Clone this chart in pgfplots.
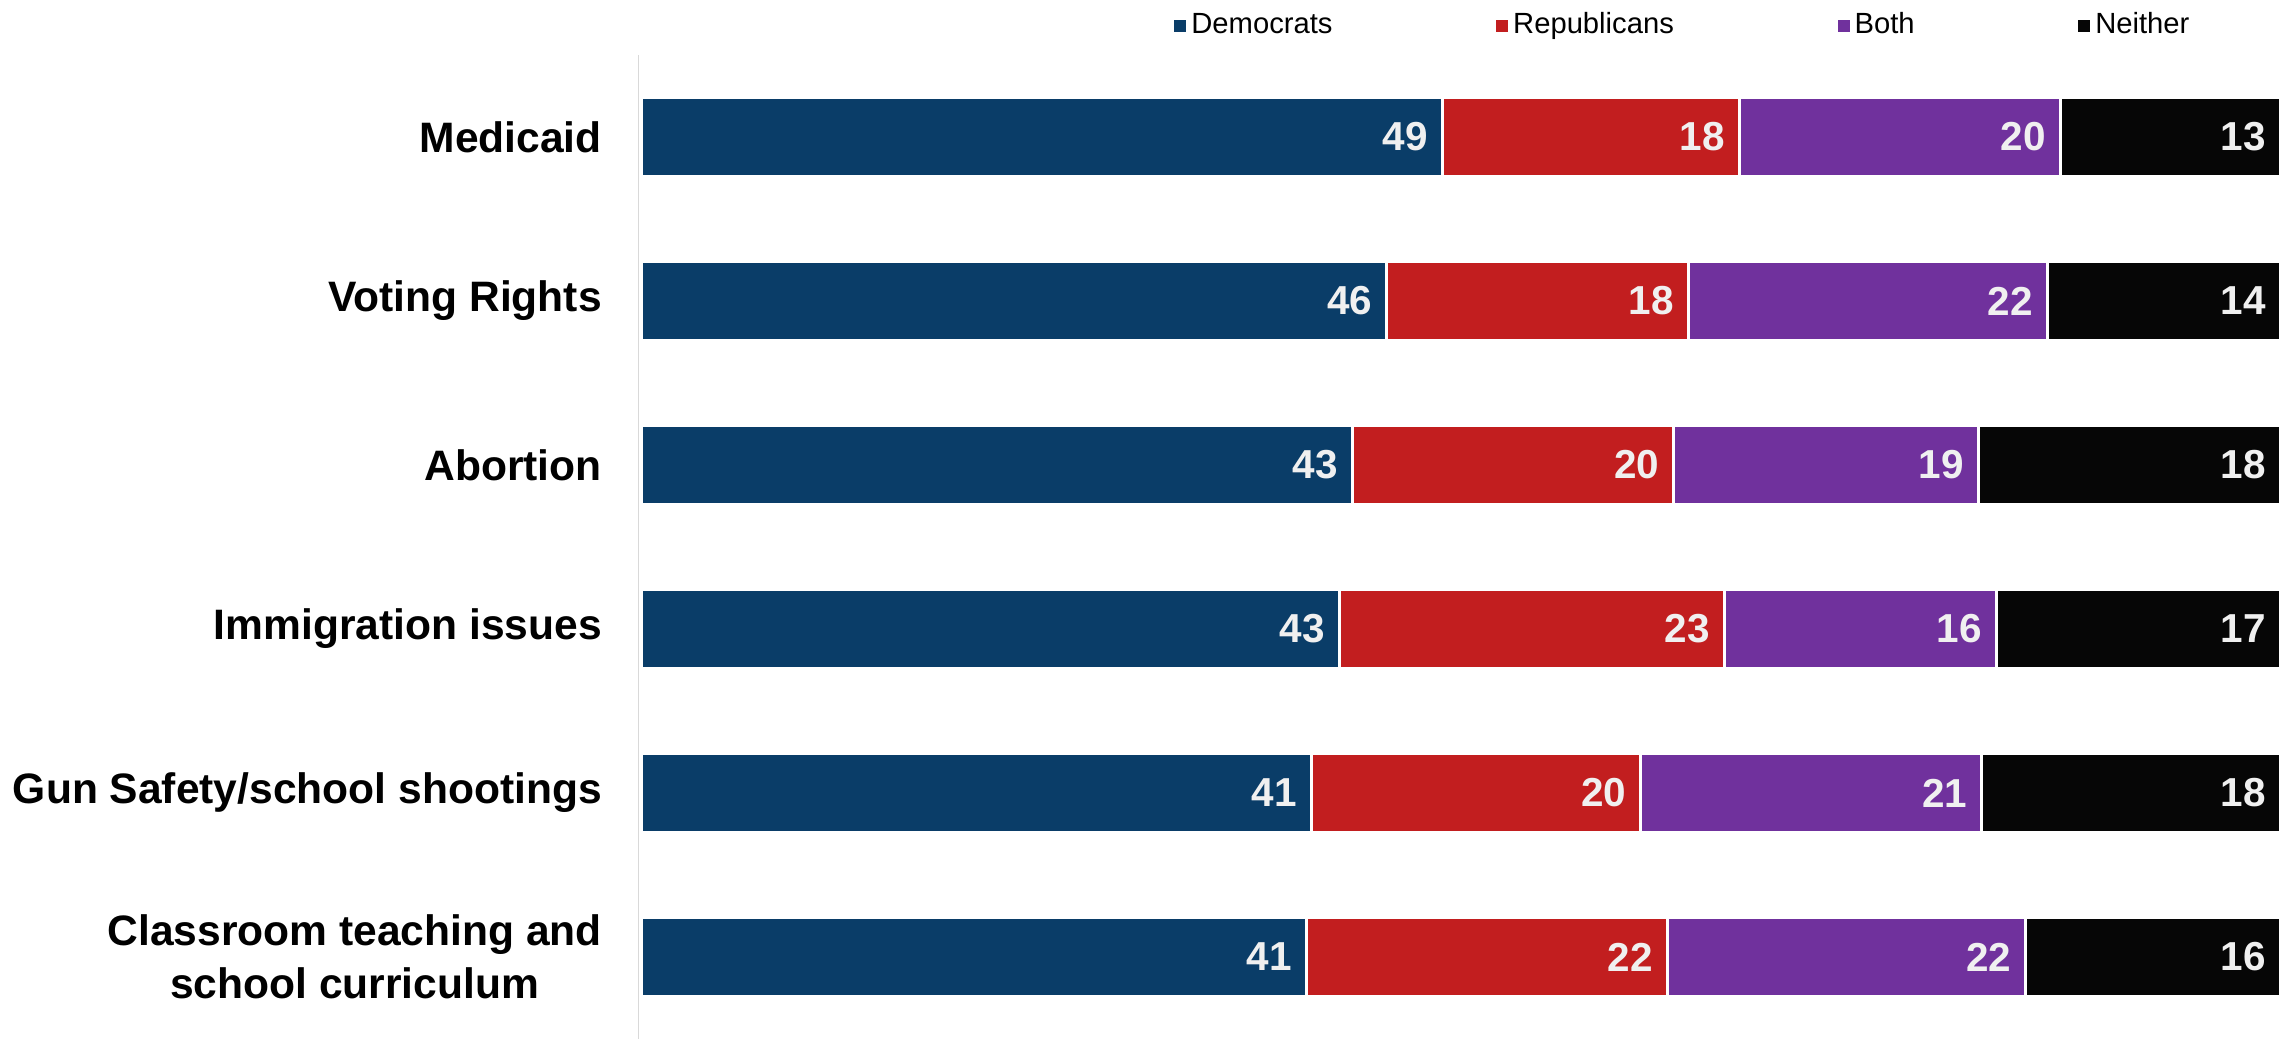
\documentclass[border=0pt]{standalone}
\usepackage{fontspec}
\setmainfont{Liberation Sans}
\usepackage{pgfplots}
\usepackage{pgfplotstable}
\pgfplotsset{compat=1.18}
\definecolor{dem}{HTML}{0A3D68}
\definecolor{rep}{HTML}{C21E1F}
\definecolor{both}{HTML}{70319D}
\definecolor{neit}{HTML}{060606}
\definecolor{axgray}{HTML}{D9D9D9}

\pgfplotstableread{
y val lab
0 48.9 49
1 45.5 46
2 43.4 43
3 42.6 43
4 40.9 41
5 40.6 41
}\dem
\pgfplotstableread{
y val lab
0 18.1 18
1 18.4 18
2 19.6 20
3 23.5 23
4 20.1 20
5 22.0 22
}\rep
\pgfplotstableread{
y val lab
0 19.6 20
1 21.9 22
2 18.6 19
3 16.6 16
4 20.8 21
5 21.9 22
}\both
\pgfplotstableread{
y val lab
0 13.4 13
1 14.2 14
2 18.4 18
3 17.3 17
4 18.2 18
5 15.5 16
}\neit

\begin{document}
\begin{tikzpicture}
\begin{axis}[
  scale only axis,
  width=164mm, height=98.3mm,
  xbar stacked,
  bar width=7.85mm,
  xmin=-0.15, xmax=100,
  ymin=-0.5, ymax=5.5,
  y dir=reverse,
  axis x line=none,
  axis y line*=left,
  y axis line style={draw=axgray, line width=0.5pt},
  ytick={0,1,2,3,4,5},
  yticklabels={Medicaid, Voting Rights, Abortion, Immigration issues, Gun Safety/school shootings, {Classroom teaching and\\school curriculum}},
  yticklabel style={font=\fontsize{12.1}{15}\selectfont\bfseries, align=center, inner sep=0pt, xshift=-3.6mm},
  major tick length=0pt,
  nodes near coords,
  point meta=explicit symbolic,
  visualization depends on={\thisrow{val} \as \segw},
  every node near coord/.append style={anchor=east, xshift={\segw*0.8188mm-1.3mm}, font=\fontsize{11.5}{14}\selectfont\bfseries, text=white!94!black, inner sep=0pt},
  legend columns=4,
  legend cell align=left,
  legend style={draw=none, fill=none, at={(0.326,1)}, anchor=west, yshift=2.9mm,
    font=\fontsize{8.3}{10}\selectfont, inner sep=0pt,
    nodes={inner sep=0.5mm},
    /tikz/every even column/.append style={column sep=15.85mm}},
  legend image code/.code={\fill[#1, draw=none] (0mm,-0.6mm) rectangle (1.2mm,0.6mm);},
]
\addplot[fill=dem, draw=white, line width=0.3mm] table[x=val, y=y, meta=lab] {\dem};
\addplot[fill=rep, draw=white, line width=0.3mm] table[x=val, y=y, meta=lab] {\rep};
\addplot[fill=both, draw=white, line width=0.3mm] table[x=val, y=y, meta=lab] {\both};
\addplot[fill=neit, draw=white, line width=0.3mm] table[x=val, y=y, meta=lab] {\neit};
\legend{Democrats, Republicans, Both, Neither}
\end{axis}
\path ([xshift=-63.8mm, yshift=5.5mm]current axis.north west);
\end{tikzpicture}
\end{document}
